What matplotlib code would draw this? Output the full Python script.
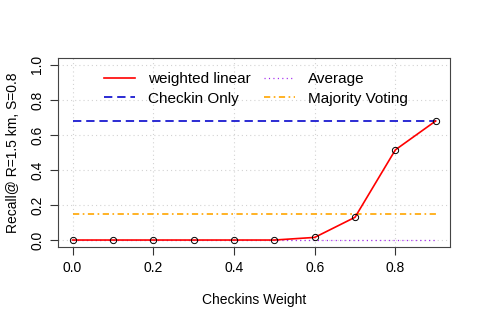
import matplotlib
matplotlib.use("Agg")
import matplotlib.pyplot as plt

# datos
weights = [0.0, 0.1, 0.2, 0.3, 0.4, 0.5, 0.6, 0.7, 0.8, 0.9]
weighted_linear = [0.0, 0.0, 0.0, 0.0, 0.0, 0.0, 0.015, 0.13, 0.515, 0.68]
checkin_only = 0.68
average = 0.0
majority_voting = 0.148

plt.rcParams['font.family'] = ['Liberation Sans', 'DejaVu Sans']
plt.rcParams['lines.scale_dashes'] = False

fig = plt.figure(figsize=(4.8, 3.2), dpi=100)
ax = fig.add_axes([0.121, 0.228, 0.817, 0.591])

ax.grid(True, color='lightgray', linestyle=(0, (0.8, 2.2)), linewidth=0.8)

ax.plot(weights, weighted_linear, color='red', linewidth=1.2, label='weighted linear', zorder=3)
ax.plot(weights, weighted_linear, linestyle='none', marker='o', markersize=4.5,
        markerfacecolor='none', markeredgecolor='black', markeredgewidth=0.7, zorder=4)
ax.plot([weights[0], weights[-1]], [checkin_only] * 2, color='#1a1ad0', linestyle=(0, (6, 3.5)),
        linewidth=1.3, label='Checkin Only')
ax.plot([weights[0], weights[-1]], [average] * 2, color='#a020f0', linestyle=(0, (0.8, 2.4)),
        linewidth=0.9, label='Average')
ax.plot([weights[0], weights[-1]], [majority_voting] * 2, color='orange', linestyle=(0, (4.5, 2.5, 1.2, 2.5)),
        linewidth=1.2, label='Majority Voting')

ax.set_xlim(-0.036, 0.936)
ax.set_ylim(-0.04, 1.04)
ax.set_xticks([0.0, 0.2, 0.4, 0.6, 0.8])
ax.set_yticks([0.0, 0.2, 0.4, 0.6, 0.8, 1.0])
ax.set_xticklabels(['0.0', '0.2', '0.4', '0.6', '0.8'])
ax.set_yticklabels(['0.0', '0.2', '0.4', '0.6', '0.8', '1.0'], rotation=90, va='center')
ax.tick_params(direction='out', length=6, labelsize=10, pad=4, colors='#333333', labelcolor='black')
for s in ax.spines.values():
    s.set_color('#444444')
    s.set_linewidth(0.8)

ax.set_xlabel('Checkins Weight', fontsize=10, labelpad=13)
ax.set_ylabel('Recall@ R=1.5 km, S=0.8', fontsize=10, labelpad=7)

ax.legend(ncol=2, frameon=False, loc='upper center', bbox_to_anchor=(0.505, 1.0),
          fontsize=11, handlelength=2.0, handletextpad=0.9, columnspacing=0.85,
          labelspacing=0.35, borderaxespad=0.55)

fig.savefig('out.png', dpi=100)
